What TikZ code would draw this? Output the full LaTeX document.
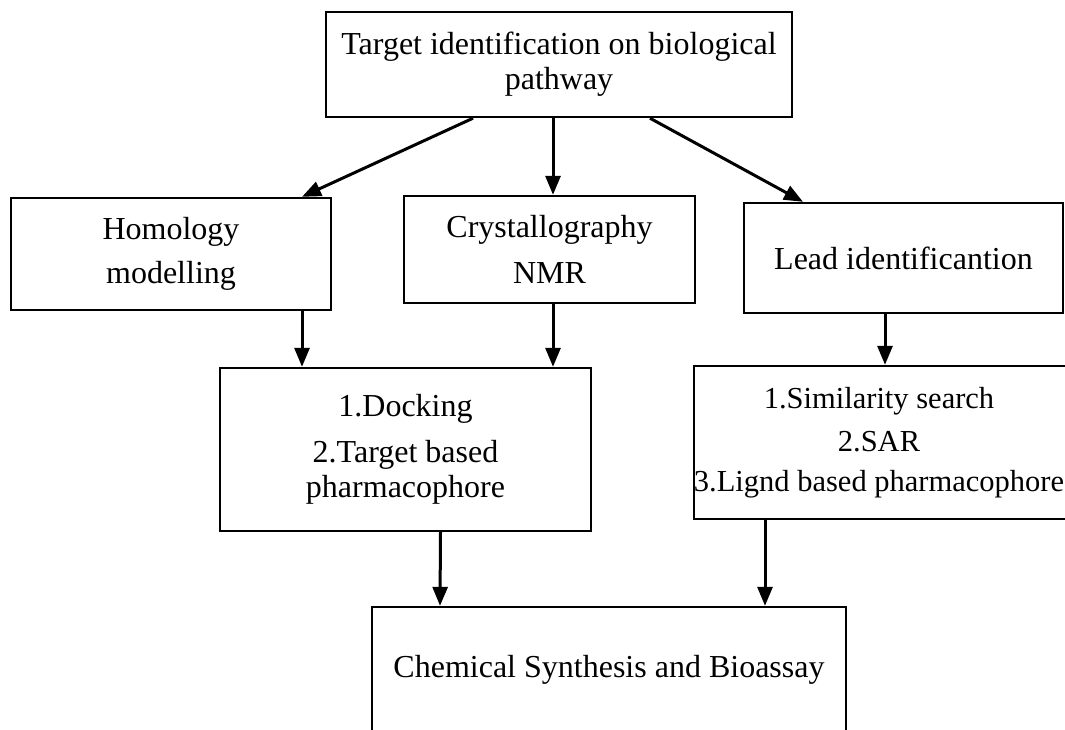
\documentclass[tikz,border=0pt]{standalone}
\usepackage{fontspec}
\setmainfont{Liberation Serif}
\usetikzlibrary{arrows.meta}
\begin{document}
\begin{tikzpicture}[x=1pt,y=-1pt,
  boxbase/.style={draw=black,line width=2.4pt,inner sep=0pt,
    font={\fontsize{32}{35}\selectfont}},
  box/.style={boxbase,align=center},
  arr/.style={line width=3pt,-{Triangle[length=19pt,width=15pt]}}]
\useasboundingbox (0,0) rectangle (1065,729);
\fill[white] (0,0) rectangle (1065,729);
\node[box,minimum width=466pt,minimum height=105pt] (top) at (559,64.5)
  {Target identification on biological\\pathway};
\node[box,minimum width=320pt,minimum height=112pt] (homology) at (171,254)
  {Homology\\[9pt]modelling};
\node[box,minimum width=291pt,minimum height=107pt] (crystal) at (549.5,249.5)
  {Crystallography\\[11pt]NMR};
\node[box,minimum width=319pt,minimum height=110pt] (lead) at (903.5,258)
  {Lead identificantion};
\node[box,minimum width=371pt,minimum height=163pt] (docking) at (405.5,449.5)
  {1.Docking\\[11pt]2.Target based\\pharmacophore};
\node[boxbase,minimum width=396pt,minimum height=153pt,
  font={\fontsize{30.5}{35}\selectfont}] (similarity) at (892,442.5)
  {\begin{tabular}{@{}c@{}}1.Similarity search\\[8pt]2.SAR\\[5pt]3.Lignd based pharmacophore\end{tabular}\hspace*{26pt}};
\node[box,minimum width=474pt,minimum height=126pt] (chemical) at (609,670)
  {Chemical Synthesis and Bioassay};
\draw[arr] ([xshift=-86pt]top.south) -- ([xshift=131pt]homology.north);
\draw[arr] ([xshift=-6pt]top.south) -- ([xshift=3.5pt]crystal.north);
\draw[arr] ([xshift=91pt]top.south) -- ([xshift=-100.5pt]lead.north);
\draw[arr] ([xshift=131pt]homology.south) -- ([xshift=-103.5pt]docking.north);
\draw[arr] ([xshift=3.5pt]crystal.south) -- ([xshift=147.5pt]docking.north);
\draw[arr] ([xshift=-18.5pt]lead.south) -- ([xshift=-7pt]similarity.north);
\draw[arr] ([xshift=35pt]docking.south) -- ([xshift=-169pt]chemical.north);
\draw[arr] ([xshift=-127pt]similarity.south) -- ([xshift=156pt]chemical.north);
\end{tikzpicture}
\end{document}
